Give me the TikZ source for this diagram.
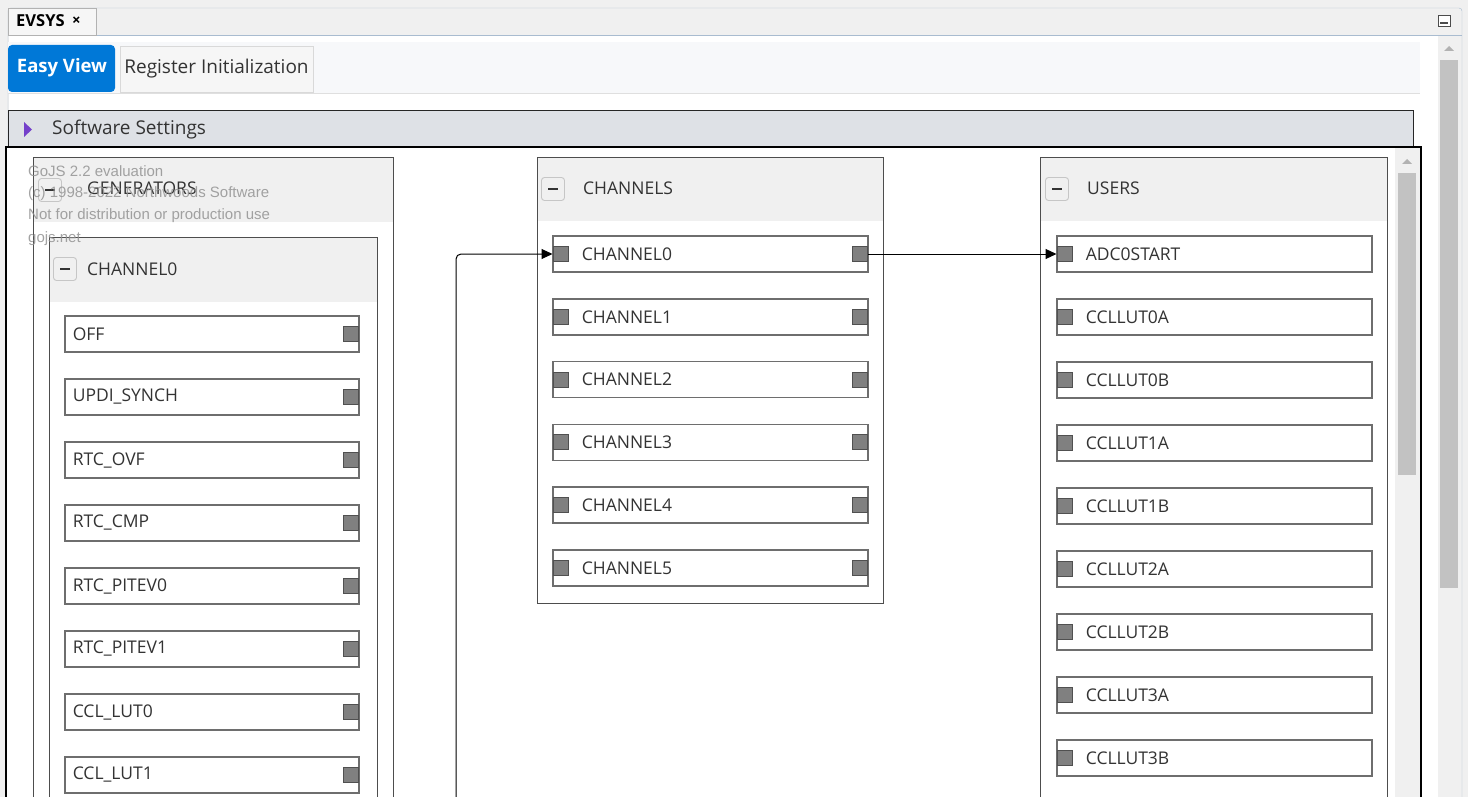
\documentclass[tikz,border=0pt]{standalone}
\usepackage{fontspec}
\setmainfont{Open Sans}
\newfontfamily\wmfont{Liberation Sans}
\usetikzlibrary{positioning,arrows.meta}
\definecolor{winbg}{HTML}{F0F0F0}
\definecolor{winline}{HTML}{A9BCD0}
\definecolor{stripbg}{HTML}{F7F8FA}
\definecolor{easyblue}{HTML}{0078D7}
\definecolor{setbar}{HTML}{DEE1E6}
\definecolor{headfill}{HTML}{F0F0F0}
\definecolor{itemline}{HTML}{6E6E6E}
\definecolor{portfill}{HTML}{808080}
\definecolor{portline}{HTML}{505050}
\definecolor{thumb}{HTML}{C2C2C2}
\definecolor{txt}{HTML}{333333}
\tikzset{every node/.style={font=\fontsize{17.5}{20}\selectfont, text=txt}}
\tikzset{
  item/.style={draw=itemline, line width=1.6pt, fill=white, minimum height=36pt,
    text width=278pt, inner xsep=8pt, inner ysep=0pt, align=left, anchor=west},
  portitem/.style={item, text width=299pt, execute at begin node=\hspace*{21pt}},
  port/.style={draw=portline, fill=portfill, minimum size=15pt, inner sep=0pt, line width=1pt},
  group/.style={draw=itemline!70!black, line width=1.3pt, fill=white, anchor=north west, inner sep=0pt},
  head/.style={fill=headfill, anchor=north west, inner sep=0pt},
  minus/.style={draw=gray!45, fill=headfill, rounded corners=3pt, minimum size=23pt,
    inner sep=0pt, line width=0.9pt},
  link/.style={-{Triangle[length=11pt,width=10pt]}, line width=1pt, black},
  wm/.style={font=\wmfont\fontsize{15}{17}\selectfont, text=gray!85, opacity=0.85, anchor=west, inner sep=0pt}
}
\newcommand{\minusbar}{\textcolor{txt}{\rule{10pt}{2pt}}}
\begin{document}
\begin{tikzpicture}[x=1pt, y=-1pt]
  \useasboundingbox (0,0) rectangle (1468,797);
  \clip (0,0) rectangle (1468,797);
  % window
  \fill[winbg] (0,0) rectangle (1468,797);
  \draw[winline, fill=winbg, rounded corners=3pt] (8,8) rectangle (1462,820);
  \fill[white] (9,36) rectangle (1461,820);
  \draw[winline] (8,35.5) -- (1462,35.5);
  \node[draw=gray!60, fill=winbg!60!white, anchor=north west, minimum width=88pt, minimum height=27pt,
    inner sep=0pt] (evtab) at (8,8) {};
  \node[font=\bfseries\fontsize{16.5}{18}\selectfont, text=black, anchor=west, inner xsep=0pt] (evsys) at (16,21) {EVSYS};
  \node[font=\bfseries\fontsize{15}{18}\selectfont, text=black, right=7pt of evsys, inner sep=0pt] (evx) {×};
  \node[draw=black!70, fill=white, minimum width=12pt, minimum height=11pt, inner sep=0pt, line width=0.8pt] (minwin) at (1444,21) {};
  \draw[black!70, line width=1.4pt] (1440,23) -- (1448,23);
  % tab strip
  \fill[stripbg] (8,42) rectangle (1420,93);
  \draw[gray!25] (8,93.5) -- (1420,93.5);
  \fill[easyblue, rounded corners=4pt] (8,45) rectangle (115,92);
  \node[font=\bfseries\fontsize{18.5}{20}\selectfont, text=white] (easy) at (62,68) {Easy View};
  \node[draw=gray!30, fill=winbg!60, minimum width=193pt, minimum height=46pt, inner sep=0pt,
    font=\fontsize{19}{20}\selectfont] (regtab) at (216.5,69) {Register Initialization};
  % software settings bar
  \node[draw=black!85, line width=1.2pt, fill=setbar, anchor=north west, minimum width=1405pt,
    minimum height=36pt, inner sep=0pt] (swbar) at (8,110) {};
  \fill[blue!45!violet!75!white] (24,122) -- (32,129.5) -- (24,137) -- cycle;
  \node[font=\fontsize{19}{20}\selectfont, anchor=west, inner xsep=0pt] (swtext) at (52,130) {Software Settings};
  % outer scrollbar
  \fill[winbg] (1438,36) rectangle (1461,797);
  \fill[thumb] (1440,60) rectangle (1458,588);
  \fill[gray!60] (1444,51) -- (1449,46) -- (1454,51) -- cycle;
  % diagram frame
  \draw[black, line width=1.8pt, fill=white] (6,147) rectangle (1421,820);
  \fill[winbg] (1395,148) rectangle (1420,797);
  \fill[thumb] (1398,173) rectangle (1416,475);
  \fill[gray!60] (1402,164) -- (1407,159) -- (1412,164) -- cycle;
  % GENERATORS group
  \node[group, minimum width=360pt, minimum height=700pt] (gen) at (33,157) {};
  \node[head, minimum width=359pt, minimum height=64pt] (genhead) at (33.7,157.7) {};
  \node[minus] (genminus) at (50,190) {\minusbar};
  \node[anchor=west, inner xsep=0pt] (gentitle) at (87,188) {GENERATORS};
  \node[group, minimum width=328pt, minimum height=600pt] (ch0grp) at (49,237) {};
  \node[head, minimum width=327pt, minimum height=64pt] (ch0head) at (49.7,237.7) {};
  \node[minus] (ch0minus) at (65,269) {\minusbar};
  \node[anchor=west, inner xsep=0pt] (ch0title) at (87,269) {CHANNEL0};
  \foreach \lab [count=\i from 0] in {OFF, UPDI\_SYNCH, RTC\_OVF, RTC\_CMP, RTC\_PITEV0,
      RTC\_PITEV1, CCL\_LUT0, CCL\_LUT1}
  {
    \node[item] (gen\i) at (64,{334+63*\i}) {\lab};
    \node[port, anchor=east] (genout\i) at ([xshift=-0.5pt]gen\i.east) {};
  }
  % CHANNELS group
  \node[group, minimum width=346pt, minimum height=446pt] (chs) at (537,157) {};
  \node[head, minimum width=345pt, minimum height=63pt] (chshead) at (537.7,157.7) {};
  \node[minus] (chsminus) at (553,189) {\minusbar};
  \node[anchor=west, inner xsep=0pt] (chstitle) at (583,188) {CHANNELS};
  \foreach \lab [count=\i from 0] in {CHANNEL0, CHANNEL1, CHANNEL2, CHANNEL3, CHANNEL4, CHANNEL5}
  {
    \node[portitem] (ch\i) at (552,{254+62.8*\i}) {\lab};
    \node[port, anchor=west] (chin\i) at ([xshift=0.5pt]ch\i.west) {};
    \node[port, anchor=east] (chout\i) at ([xshift=-0.5pt]ch\i.east) {};
  }
  % USERS group
  \node[group, minimum width=347pt, minimum height=700pt] (usr) at (1040,157) {};
  \node[head, minimum width=346pt, minimum height=63pt] (usrhead) at (1040.7,157.7) {};
  \node[minus] (usrminus) at (1057,189) {\minusbar};
  \node[anchor=west, inner xsep=0pt] (usrtitle) at (1087,188) {USERS};
  \foreach \lab [count=\i from 0] in {ADC0START, CCLLUT0A, CCLLUT0B, CCLLUT1A, CCLLUT1B,
      CCLLUT2A, CCLLUT2B, CCLLUT3A, CCLLUT3B}
  {
    \node[portitem] (us\i) at (1056,{254+63*\i}) {\lab};
    \node[port, anchor=west] (usin\i) at ([xshift=0.5pt]us\i.west) {};
  }
  % links
  \coordinate (src) at (456,810);
  \draw[link, rounded corners=5pt] (src) |- (chin0.west);
  \draw[link] (chout0.east) -- (usin0.west);
  % evaluation watermark
  \node[wm] (wm1) at (28,171) {GoJS 2.2 evaluation};
  \node[wm] (wm2) at (28,194) {(c) 1998-2022 Northwoods Software};
  \node[wm] (wm3) at (28,216) {Not for distribution or production use};
  \node[wm] (wm4) at (28,239) {gojs.net};
\end{tikzpicture}
\end{document}
